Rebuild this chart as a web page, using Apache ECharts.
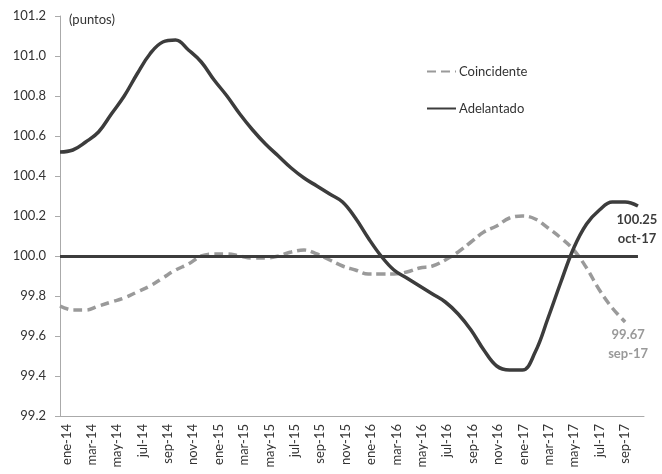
<!DOCTYPE html>
<html>
<head>
<meta charset="utf-8">
<script src="https://cdn.jsdelivr.net/npm/echarts@6/dist/echarts.min.js"></script>
<style>
  html, body { margin: 0; padding: 0; background: #fff; }
  #chart { width: 662px; height: 474px; }
</style>
</head>
<body>
<div id="chart"></div>
<script>
// meses (ene-14 .. oct-17)
const months = [
  'ene-14', 'feb-14', 'mar-14', 'abr-14', 'may-14', 'jun-14', 'jul-14', 'ago-14', 'sep-14', 'oct-14', 'nov-14', 'dic-14',
  'ene-15', 'feb-15', 'mar-15', 'abr-15', 'may-15', 'jun-15', 'jul-15', 'ago-15', 'sep-15', 'oct-15', 'nov-15', 'dic-15',
  'ene-16', 'feb-16', 'mar-16', 'abr-16', 'may-16', 'jun-16', 'jul-16', 'ago-16', 'sep-16', 'oct-16', 'nov-16', 'dic-16',
  'ene-17', 'feb-17', 'mar-17', 'abr-17', 'may-17', 'jun-17', 'jul-17', 'ago-17', 'sep-17', 'oct-17'
]

// indicador coincidente (hasta sep-17)
const coincidente = [
  99.75, 99.73, 99.73, 99.75, 99.77, 99.79, 99.82, 99.85, 99.89, 99.93, 99.96, 100.00,
  100.01, 100.01, 100.00, 99.99, 99.99, 100.00, 100.02, 100.03, 100.01, 99.98, 99.95, 99.93,
  99.91, 99.91, 99.91, 99.92, 99.94, 99.95, 99.98, 100.02, 100.07, 100.12, 100.15, 100.19,
  100.20, 100.185, 100.14, 100.09, 100.03, 99.94, 99.83, 99.74, 99.67
]

// indicador adelantado (hasta oct-17)
const adelantado = [
  100.52, 100.53, 100.57, 100.62, 100.71, 100.80, 100.91, 101.01, 101.07, 101.08, 101.03, 100.97,
  100.88, 100.80, 100.71, 100.63, 100.56, 100.50, 100.44, 100.39, 100.35, 100.31, 100.27, 100.19,
  100.09, 100.00, 99.93, 99.89, 99.85, 99.81, 99.77, 99.71, 99.63, 99.53, 99.45, 99.43,
  99.43, 99.52, 99.69, 99.87, 100.04, 100.16, 100.23, 100.27, 100.27, 100.25
]

const baseline = 100
const yMin = 99.2
const yMax = 101.2
const yStep = 0.2

const FONT = 'Lato, "Open Sans", sans-serif'

const chart = echarts.init(document.getElementById('chart'))

const endText = (arr) => () => `${arr[arr.length - 1].toFixed(2)}\n${months[arr.length - 1]}`

const option = {
  animation: false,
  textStyle: { fontFamily: FONT },
  title: {
    text: '(puntos)',
    left: 64,
    top: 8,
    textStyle: { fontFamily: FONT, fontSize: 13, fontWeight: 'normal', color: '#333' }
  },
  legend: {
    orient: 'vertical',
    left: 426,
    top: 65,
    padding: 0,
    itemWidth: 29,
    itemHeight: 14,
    itemGap: 24,
    itemStyle: { opacity: 0 },
    textStyle: { fontFamily: FONT, fontSize: 13, color: '#333', padding: [0, 0, 0, -2] },
    data: ['Coincidente', 'Adelantado']
  },
  grid: { left: 60, right: 18, top: 16, bottom: 58 },
  xAxis: [
    {
      type: 'category',
      data: months,
      boundaryGap: true,
      axisLine: { lineStyle: { color: '#aaa' } },
      axisTick: { interval: 1, length: 5, lineStyle: { color: '#aaa' } },
      axisLabel: { interval: 1, rotate: 90, margin: 8, fontSize: 13, color: '#333', fontFamily: FONT }
    },
    {
      type: 'value',
      min: 0,
      max: 45.47,
      show: false
    }
  ],
  yAxis: {
    type: 'value',
    min: yMin,
    max: yMax,
    interval: yStep,
    axisLine: { show: true, lineStyle: { color: '#aaa' } },
    axisTick: { show: true, length: 5, lineStyle: { color: '#aaa' } },
    splitLine: { show: false },
    axisLabel: { margin: 14, fontSize: 13, color: '#333', fontFamily: FONT, formatter: v => v.toFixed(1) }
  },
  series: [
    {
      name: 'Coincidente',
      type: 'line',
      xAxisIndex: 1,
      data: coincidente.map((v, i) => [i, v]),
      smooth: 0.4,
      showSymbol: false,
      symbol: 'none',
      itemStyle: { color: '#9a9a9a' },
      lineStyle: { color: '#9a9a9a', width: 3.5, type: [9, 5] },
      endLabel: {
        show: true,
        distance: 0,
        align: 'center',
        verticalAlign: 'top',
        offset: [3, 3],
        formatter: endText(coincidente),
        color: '#999',
        fontWeight: 'bold',
        fontSize: 13,
        lineHeight: 19,
        fontFamily: FONT
      },
      z: 3
    },
    {
      name: 'Adelantado',
      type: 'line',
      xAxisIndex: 1,
      data: adelantado.map((v, i) => [i, v]),
      smooth: 0.4,
      showSymbol: false,
      symbol: 'none',
      itemStyle: { color: '#3c3c3c' },
      lineStyle: { color: '#3c3c3c', width: 3.5 },
      endLabel: {
        show: true,
        distance: 0,
        align: 'center',
        verticalAlign: 'top',
        offset: [-1, 4],
        formatter: endText(adelantado),
        color: '#3c3c3c',
        fontWeight: 'bold',
        fontSize: 13,
        lineHeight: 19,
        fontFamily: FONT
      },
      markLine: {
        silent: true,
        symbol: 'none',
        label: { show: false },
        lineStyle: { color: '#3c3c3c', width: 3, type: 'solid' },
        data: [[{ coord: [0, baseline] }, { coord: [months.length - 1, baseline] }]]
      },
      z: 4
    }
  ]
}

chart.setOption(option)
</script>
</body>
</html>
